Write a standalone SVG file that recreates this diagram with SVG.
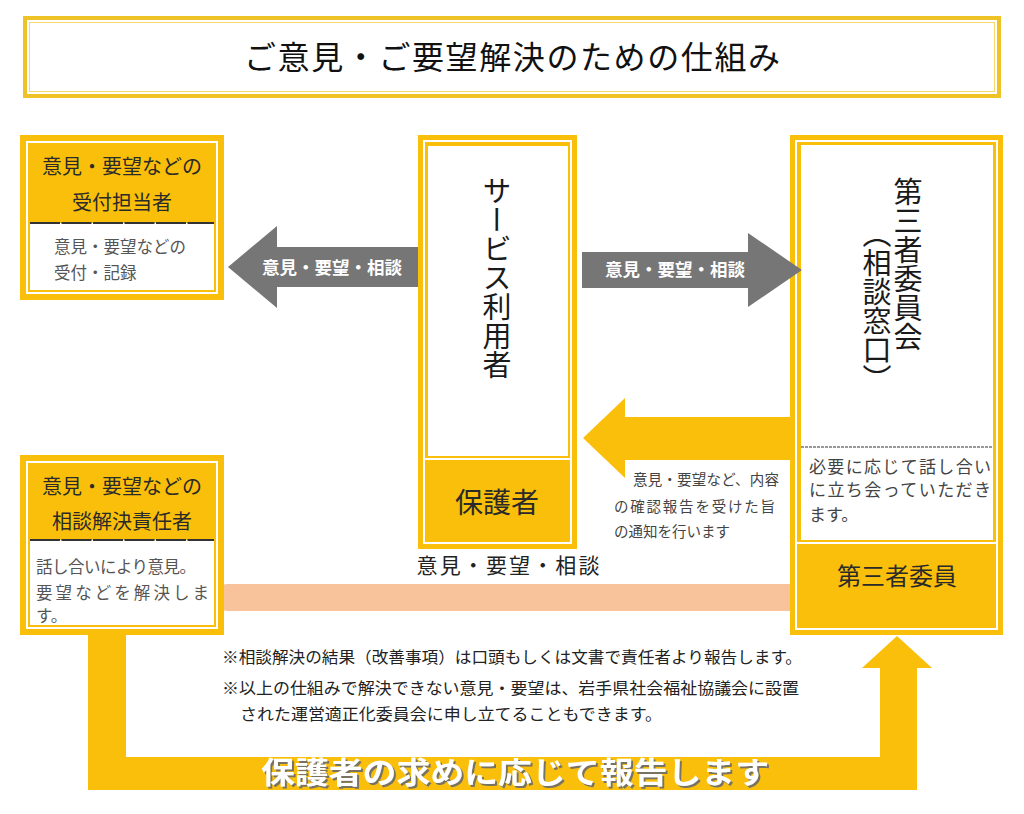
<svg xmlns="http://www.w3.org/2000/svg" width="1024" height="814" viewBox="0 0 1024 814">
<defs>
<style>
text{font-family:"Noto Sans CJK JP","Noto Sans CJK SC",sans-serif}
.y{fill:#F9BF0B}
.wl{fill:none;stroke:#fff;stroke-width:2}
.wb{fill:#fff}
.hd{font-size:20px;fill:#2a2a2a;text-anchor:middle}
.bd{font-size:16.5px;fill:#555}
.gt{font-size:17.5px;fill:#fff;text-anchor:middle;font-weight:bold}
.vt{font-size:29px;fill:#1a1a1a;writing-mode:vertical-rl}
.note{font-size:16px;fill:#222}
.dash{stroke:#333;stroke-width:2;stroke-dasharray:30 1.5}
</style>
<filter id="sh" x="-5%" y="-30%" width="110%" height="160%">
<feDropShadow dx="2" dy="2" stdDeviation="0.6" flood-color="#6a6a6a" flood-opacity="0.9"/>
</filter>
</defs>
<rect width="1024" height="814" fill="#fff"/>

<g id="title">
<rect x="25" y="18" width="974" height="78" fill="#fff" stroke="#EFC226" stroke-width="4"/>
<rect x="29.5" y="22.5" width="965" height="69" fill="none" stroke="#F6D96A" stroke-width="1"/>
<text x="512" y="69" font-size="32" fill="#111" text-anchor="middle" textLength="536" lengthAdjust="spacing">ご意見・ご要望解決のための仕組み</text>
</g>

<g id="connectors">
<rect x="220" y="584" width="576" height="27" rx="7" fill="#F8C29B"/>
<polygon class="y" points="88,630 126,630 126,757 880,757 880,668 862,668 897,636 932,668 917,668 917,790 88,790"/>
<polygon class="y" points="583,438 625,398 625,417 796,417 796,460 625,460 625,478"/>
<polygon fill="#767676" points="228,267 277,226 277,247 421,247 421,287 277,287 277,308"/>
</g>

<g id="uketsuke">
<rect class="y" x="20" y="135" width="204" height="165"/>
<rect class="wl" x="27" y="142" width="190" height="151"/>
<rect class="wb" x="30" y="223" width="184" height="67"/>
<line class="dash" x1="30" y1="223" x2="214" y2="223"/>
<text class="hd" x="122" y="174">意見・要望などの</text>
<text class="hd" x="122" y="210">受付担当者</text>
<text class="bd" x="54" y="253">意見・要望などの</text>
<text class="bd" x="54" y="279">受付・記録</text>
</g>

<g id="sekininsha">
<rect class="y" x="20" y="455" width="204" height="180"/>
<rect class="wl" x="27" y="462" width="190" height="166"/>
<rect class="wb" x="30" y="540" width="184" height="85"/>
<line class="dash" x1="30" y1="540" x2="214" y2="540"/>
<text class="hd" x="122" y="494">意見・要望などの</text>
<text class="hd" x="122" y="529">相談解決責任者</text>
<text class="bd" x="36" y="573" textLength="160" lengthAdjust="spacing">話し合いにより意見。</text>
<text class="bd" x="36" y="599" textLength="173" lengthAdjust="spacing">要望などを解決しま</text>
<text class="bd" x="36" y="622">す。</text>
</g>

<g id="riyousha">
<rect class="y" x="418" y="135" width="159" height="414"/>
<rect class="wl" x="424" y="141" width="147" height="402"/>
<rect class="wb" x="428" y="146" width="140" height="310"/>
<line x1="424" y1="459" x2="571" y2="459" stroke="#fff" stroke-width="2"/>
<text class="vt" x="497" y="176">サービス利用者</text>
<text x="497" y="513" font-size="28" fill="#2a2a2a" text-anchor="middle">保護者</text>
</g>

<g id="daisansha">
<rect class="y" x="790" y="135" width="213" height="500"/>
<rect class="wl" x="796" y="141" width="201" height="488"/>
<rect class="wb" x="801" y="145" width="192" height="395"/>
<line x1="801" y1="447" x2="993" y2="447" stroke="#333" stroke-width="1.2" stroke-dasharray="3 1"/>
<line x1="796" y1="543" x2="997" y2="543" stroke="#fff" stroke-width="2"/>
<text class="vt" x="908" y="177">第三者委員会</text>
<text class="vt" x="877" y="219">（相談窓口）</text>
<text x="809" y="473" font-size="17" fill="#444" textLength="182" lengthAdjust="spacing">必要に応じて話し合い</text>
<text x="809" y="496" font-size="17" fill="#444" textLength="182" lengthAdjust="spacing">に立ち会っていただき</text>
<text x="809" y="521" font-size="17" fill="#444">ます。</text>
<text x="897" y="585" font-size="24" fill="#2a2a2a" text-anchor="middle">第三者委員</text>
</g>

<g id="labels">
<polygon fill="#767676" points="582,252 748,252 748,233 802,270 748,307 748,288 582,288"/>
<text class="gt" x="332" y="274">意見・要望・相談</text>
<text class="gt" x="675" y="276">意見・要望・相談</text>
<text x="633" y="485" font-size="14.5" fill="#444" textLength="146" lengthAdjust="spacing">意見・要望など、内容</text>
<text x="614" y="512" font-size="14.5" fill="#444" textLength="161" lengthAdjust="spacing">の確認報告を受けた旨</text>
<text x="614" y="537" font-size="14.5" fill="#444">の通知を行います</text>
<text x="508" y="573" font-size="21" fill="#222" text-anchor="middle" textLength="183" lengthAdjust="spacing">意見・要望・相談</text>
<text class="note" x="222" y="663" textLength="580" lengthAdjust="spacingAndGlyphs">※相談解決の結果（改善事項）は口頭もしくは文書で責任者より報告します。</text>
<text class="note" x="222" y="694" textLength="577" lengthAdjust="spacingAndGlyphs">※以上の仕組みで解決できない意見・要望は、岩手県社会福祉協議会に設置</text>
<text class="note" x="240" y="720" textLength="422" lengthAdjust="spacingAndGlyphs">された運営適正化委員会に申し立てることもできます。</text>
<text x="515" y="783" font-size="30" font-weight="bold" fill="#fff" text-anchor="middle" textLength="508" lengthAdjust="spacingAndGlyphs" filter="url(#sh)">保護者の求めに応じて報告します</text>
</g>
</svg>
